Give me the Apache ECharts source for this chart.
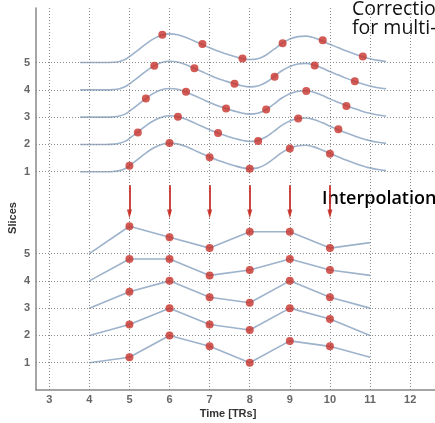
<!DOCTYPE html>
<html>
<head>
<meta charset="utf-8">
<script src="https://cdn.jsdelivr.net/npm/echarts@6/dist/echarts.min.js"></script>
<style>html,body{margin:0;padding:0;background:#fff;}#c{width:435px;height:423px;}</style>
</head>
<body>
<div id="c"></div>
<script>
// ---- data ----
var timeTicks = [3, 4, 5, 6, 7, 8, 9, 10, 11, 12];
var sliceLabels = ['1', '2', '3', '4', '5'];
var sliceLevels = [1, 2, 3, 4, 5];          // baseline of each slice (bottom group)
var groupShift = 7;                          // top group sits 7 units higher
var gridRows = [1, 2, 3, 4, 5, 8, 9, 10, 11, 12];

// continuous signal (top group), relative to each slice baseline
var curveX = [3.77, 4.0, 4.4, 4.6, 4.75, 4.9, 5.0, 5.2, 5.4, 5.6, 5.8, 6.0, 6.2, 6.4, 6.6, 6.8, 7.0, 7.2, 7.4, 7.6, 7.8, 8.0, 8.2, 8.4, 8.6, 8.8, 9.0, 9.2, 9.4, 9.6, 9.8, 10.0, 10.2, 10.4, 10.6, 10.8, 11.0, 11.2, 11.4];
var curveY = [0, 0, 0, 0.01, 0.04, 0.12, 0.22, 0.44, 0.67, 0.87, 1.0, 1.05, 1.02, 0.93, 0.8, 0.67, 0.54, 0.42, 0.32, 0.23, 0.15, 0.11, 0.14, 0.27, 0.48, 0.7, 0.86, 0.95, 0.97, 0.91, 0.8, 0.67, 0.55, 0.43, 0.32, 0.22, 0.14, 0.08, 0.04];

// acquisition times (TRs) and per-slice timing offsets
var acqTimes = [5, 6, 7, 8, 9, 10];
var sliceOffsets = [0, 0.21, 0.41, 0.62, 0.82];
var acquired = [
  [0.22, 1.05, 0.53, 0.11, 0.85, 0.66],
  [0.44, 1.01, 0.42, 0.13, 0.95, 0.56],
  [0.68, 0.93, 0.32, 0.28, 0.96, 0.41],
  [0.88, 0.79, 0.22, 0.48, 0.89, 0.32],
  [1.02, 0.68, 0.15, 0.71, 0.82, 0.22]
];

// interpolated series (bottom group)
var interpTimes = [4, 5, 6, 7, 8, 9, 10, 11];
var interpolated = [
  [0, 0.2, 1.0, 0.6, 0.0, 0.8, 0.6, 0.2],
  [0, 0.4, 1.0, 0.4, 0.2, 1.0, 0.6, 0.0],
  [0, 0.6, 1.0, 0.4, 0.2, 1.0, 0.4, 0.0],
  [0, 0.8, 0.8, 0.2, 0.4, 0.8, 0.4, 0.2],
  [0, 1.0, 0.6, 0.2, 0.8, 0.8, 0.2, 0.4]
];
var arrowTimes = [5, 6, 7, 8, 9, 10];
var arrowFrom = 7.5, arrowTo = 6.45;

// ---- chart ----
var LINE = '#9db2cb', DOT = '#c8322a', GRIDC = '#8c8c8c';
var series = [];

// grid lines (dotted)
series.push({
  type: 'line', data: [], silent: true, z: 1,
  markLine: {
    silent: true, symbol: ['none', 'none'], label: {show: false},
    lineStyle: {color: GRIDC, type: [1, 2], width: 1},
    emphasis: {disabled: true},
    data: gridRows.map(function (v) { return {yAxis: v}; })
      .concat(timeTicks.map(function (t) { return {xAxis: t}; }))
  }
});

sliceLevels.forEach(function (lev, i) {
  var base = lev + groupShift;
  series.push({
    type: 'line', smooth: 0.4, showSymbol: false, symbol: 'none', z: 3,
    lineStyle: {color: LINE, width: 1.6},
    data: curveX.map(function (x, k) { return [x, base + curveY[k]]; })
  });
  series.push({
    type: 'scatter', symbolSize: 8, z: 5,
    itemStyle: {color: DOT},
    data: acqTimes.map(function (t, k) { return [t + sliceOffsets[i], base + acquired[i][k]]; })
  });
  series.push({
    type: 'line', showSymbol: false, symbol: 'none', z: 3,
    lineStyle: {color: LINE, width: 1.6},
    data: interpTimes.map(function (t, k) { return [t, lev + interpolated[i][k]]; })
  });
  series.push({
    type: 'scatter', symbolSize: 8, z: 5,
    itemStyle: {color: DOT},
    data: interpTimes.map(function (t, k) { return [t, lev + interpolated[i][k]]; })
      .filter(function (p) { return p[0] >= 5 && p[0] <= 10; })
  });
});

// arrows
series.push({
  type: 'line', data: [], silent: true, z: 4,
  markLine: {
    silent: true, symbol: ['none', 'triangle'], symbolSize: [5, 9],
    label: {show: false}, emphasis: {disabled: true},
    lineStyle: {color: DOT, type: 'solid', width: 2, opacity: 0.9},
    data: arrowTimes.map(function (t) { return [{coord: [t, arrowFrom]}, {coord: [t, arrowTo]}]; })
  }
});

var chart = echarts.init(document.getElementById('c'), null, {renderer: 'canvas'});
chart.setOption({
  animation: false,
  backgroundColor: '#fff',
  grid: {left: 36, right: 0, top: 8, bottom: 33, containLabel: false},
  xAxis: {
    type: 'value', min: 2.67, max: 12.62,
    axisLine: {show: true, onZero: false, lineStyle: {color: '#888', width: 1.5}},
    axisTick: {show: false},
    splitLine: {show: false},
    axisLabel: {
      customValues: timeTicks, margin: 4,
      color: '#666', fontSize: 11, fontWeight: 'bold', fontFamily: 'Liberation Sans'
    }
  },
  yAxis: {
    type: 'value', min: 0, max: 14, interval: 1,
    axisLine: {show: true, lineStyle: {color: '#888', width: 1.5}},
    axisTick: {show: false},
    splitLine: {show: false},
    axisLabel: {
      margin: 6, color: '#666', fontSize: 11, fontWeight: 'bold', fontFamily: 'Liberation Sans',
      formatter: function (v) {
        if (v >= 1 && v <= 5) return sliceLabels[v - 1];
        if (v >= 8 && v <= 12) return sliceLabels[v - 8];
        return '';
      }
    }
  },
  graphic: [
    {type: 'text', x: 13, y: 218, rotation: Math.PI / 2,
     style: {text: 'Slices', fill: '#333', font: 'bold 11px "Liberation Sans"', align: 'center', verticalAlign: 'middle'}},
    {type: 'text', x: 228, y: 414,
     style: {text: 'Time [TRs]', fill: '#333', font: 'bold 11px "Liberation Sans"', align: 'center', verticalAlign: 'middle'}},
    {type: 'text', x: 352, y: 0,
     style: {text: 'Correction\nfor multi-slice', fill: '#111', font: '19.5px "Open Sans"', lineHeight: 19, align: 'left', verticalAlign: 'top'}},
    {type: 'text', x: 322, y: 199,
     style: {text: 'Interpolation', fill: '#000', font: '600 18px "Open Sans"', align: 'left', verticalAlign: 'middle'}}
  ],
  series: series
});
</script>
</body>
</html>
